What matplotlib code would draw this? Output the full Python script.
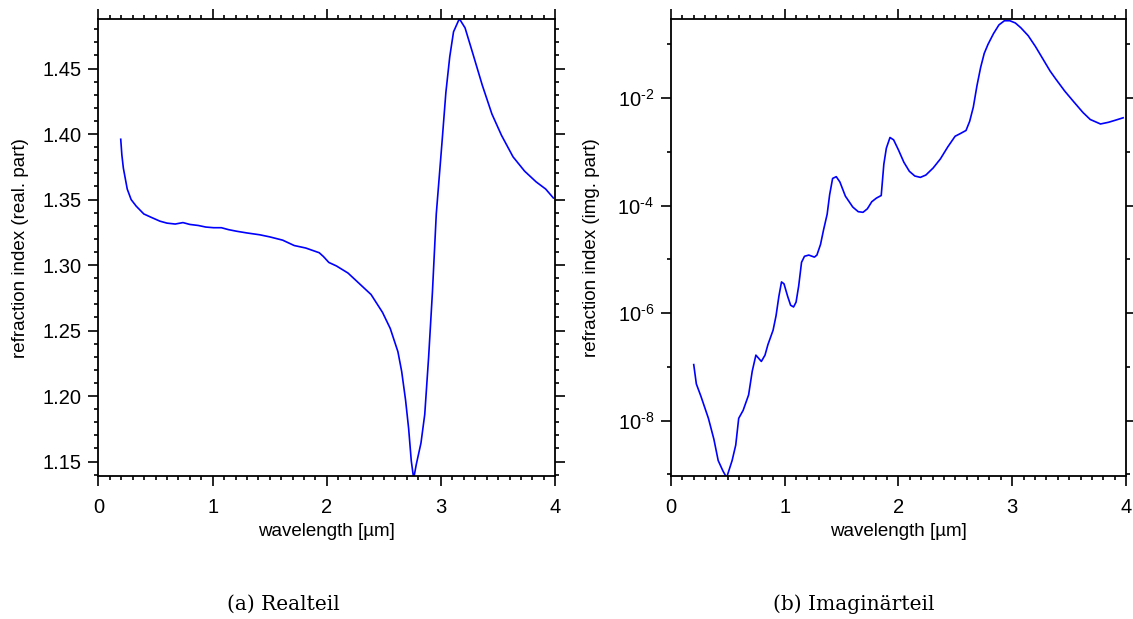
import matplotlib
matplotlib.use("Agg")
import math
import matplotlib.pyplot as plt
from matplotlib.ticker import MultipleLocator, FixedLocator, FuncFormatter, NullFormatter

plt.rcParams['font.family'] = ['Liberation Sans', 'DejaVu Sans']
plt.rcParams['mathtext.fontset'] = 'custom'
plt.rcParams['mathtext.rm'] = 'Liberation Sans'
plt.rcParams['mathtext.it'] = 'Liberation Sans:italic'

# real part of the refraction index
wl_re = [0.195, 0.205, 0.218, 0.235, 0.252, 0.286, 0.33, 0.397, 0.46, 0.538,
         0.60, 0.672, 0.74, 0.80, 0.874, 0.94, 1.008, 1.076, 1.14, 1.21,
         1.30, 1.412, 1.50, 1.613, 1.714, 1.815, 1.933, 1.97, 2.017, 2.084,
         2.185, 2.286, 2.387, 2.487, 2.555, 2.622, 2.655, 2.689, 2.716, 2.739,
         2.760, 2.783, 2.824, 2.857, 2.891, 2.924, 2.958, 3.008, 3.042, 3.076,
         3.109, 3.16, 3.21, 3.277, 3.361, 3.445, 3.529, 3.63, 3.731, 3.832,
         3.916, 3.983]
n_re = [1.396, 1.384, 1.374, 1.366, 1.358, 1.350, 1.345, 1.339, 1.3365, 1.3335,
        1.332, 1.3313, 1.3324, 1.331, 1.3302, 1.329, 1.3285, 1.3285, 1.327, 1.3258,
        1.3245, 1.3231, 1.3215, 1.3190, 1.3149, 1.3130, 1.3094, 1.3065, 1.3020, 1.2993,
        1.2939, 1.2857, 1.2775, 1.2639, 1.2516, 1.2339, 1.2188, 1.1970, 1.1752, 1.1506,
        1.137, 1.1479, 1.1642, 1.1860, 1.2298, 1.2789, 1.3390, 1.3935, 1.4317, 1.4590,
        1.4780, 1.4880, 1.4810, 1.4617, 1.4372, 1.4153, 1.3990, 1.3826, 1.3717, 1.3635,
        1.3580, 1.3512]

# imaginary part of the refraction index
wl_im = [0.202, 0.225, 0.266, 0.331, 0.379, 0.417, 0.459, 0.491, 0.539, 0.571,
         0.597, 0.636, 0.684, 0.716, 0.748, 0.796, 0.828, 0.854, 0.899, 0.925,
         0.950, 0.973, 0.995, 1.027, 1.053, 1.079, 1.101, 1.124, 1.149, 1.175,
         1.213, 1.262, 1.284, 1.316, 1.342, 1.374, 1.396, 1.422, 1.454, 1.486,
         1.534, 1.599, 1.647, 1.689, 1.727, 1.766, 1.807, 1.849, 1.872, 1.894,
         1.926, 1.958, 2.000, 2.048, 2.096, 2.144, 2.193, 2.241, 2.305, 2.369,
         2.433, 2.498, 2.546, 2.594, 2.626, 2.658, 2.690, 2.722, 2.754, 2.787,
         2.835, 2.883, 2.931, 2.979, 3.027, 3.075, 3.140, 3.204, 3.268, 3.332,
         3.380, 3.461, 3.541, 3.621, 3.685, 3.775, 3.846, 3.910, 3.974]
k_im = [1.1e-7, 4.8e-8, 2.8e-8, 1.1e-8, 4.5e-9, 1.8e-9, 1.15e-9, 8.7e-10, 1.8e-9, 3.5e-9,
        1.1e-8, 1.55e-8, 3.0e-8, 8.3e-8, 1.65e-7, 1.26e-7, 1.65e-7, 2.6e-7, 4.8e-7, 8.9e-7,
        2.05e-6, 3.8e-6, 3.5e-6, 2.05e-6, 1.4e-6, 1.3e-6, 1.6e-6, 3.2e-6, 8.8e-6, 1.14e-5,
        1.2e-5, 1.1e-5, 1.2e-5, 1.9e-5, 3.5e-5, 6.9e-5, 1.6e-4, 3.2e-4, 3.45e-4, 2.75e-4,
        1.5e-4, 9.4e-5, 7.7e-5, 7.5e-5, 8.7e-5, 1.18e-4, 1.38e-4, 1.54e-4, 5.9e-4, 1.17e-3,
        1.85e-3, 1.67e-3, 1.09e-3, 6.4e-4, 4.35e-4, 3.55e-4, 3.35e-4, 3.7e-4, 5.0e-4, 7.4e-4,
        1.23e-3, 1.95e-3, 2.2e-3, 2.5e-3, 3.7e-3, 6.8e-3, 1.7e-2, 3.7e-2, 6.8e-2, 0.100,
        0.158, 0.23, 0.275, 0.275, 0.25, 0.204, 0.145, 0.091, 0.054, 0.032,
        0.023, 0.0135, 8.5e-3, 5.4e-3, 4.0e-3, 3.3e-3, 3.55e-3, 3.9e-3, 4.3e-3]

log_major = [1e-8, 1e-6, 1e-4, 1e-2]
log_minor = [1e-9, 1e-7, 1e-5, 1e-3, 1e-1]


def style_axes(ax):
    for sp in ax.spines.values():
        sp.set_linewidth(1.3)
    ax.tick_params(which='both', direction='out', top=True, right=True,
                   labeltop=False, labelright=False, width=1.2,
                   labelsize=14.5, pad=5)
    ax.tick_params(which='major', length=7)
    ax.tick_params(which='minor', length=3.2)
    ax.tick_params(axis='x', which='major', pad=9)
    ax.set_xlim(0, 4)
    ax.xaxis.set_major_locator(MultipleLocator(1))
    ax.xaxis.set_minor_locator(MultipleLocator(0.1))
    ax.set_xlabel('wavelength [µm]', fontsize=13.5)
    ax.xaxis.set_label_coords(0.5, -0.102)


def sci_label(v, pos):
    n = int(round(-math.log10(v)))
    return r'$\mathregular{10^{\text{-}' + str(n) + r'}}$'


fig = plt.figure(figsize=(11.33, 6.19), dpi=100)
ax1 = fig.add_axes([0.0869, 0.231, 0.4032, 0.7375])
ax2 = fig.add_axes([0.592, 0.231, 0.4019, 0.7375])

# (a) real part
ax1.plot(wl_re, n_re, color='#0000ff', lw=1.2)
style_axes(ax1)
ax1.set_ylim(1.139, 1.4874)
ax1.yaxis.set_major_locator(MultipleLocator(0.05))
ax1.yaxis.set_minor_locator(MultipleLocator(0.01))
ax1.yaxis.set_major_formatter(FuncFormatter(lambda v, p: f'{v:.2f}'))
ax1.set_ylabel('refraction index (real. part)', fontsize=13.5)
ax1.yaxis.set_label_coords(-0.17, 0.5)
ax1.yaxis.label.set_va('center')

# (b) imaginary part, log scale
ax2.plot(wl_im, k_im, color='#0000ff', lw=1.2)
ax2.set_yscale('log')
style_axes(ax2)
ax2.set_ylim(9.3e-10, 0.29)
ax2.yaxis.set_major_locator(FixedLocator(log_major))
ax2.yaxis.set_minor_locator(FixedLocator(log_minor))
ax2.yaxis.set_major_formatter(FuncFormatter(sci_label))
ax2.yaxis.set_minor_formatter(NullFormatter())
ax2.set_ylabel('refraction index (img. part)', fontsize=13.5)
ax2.yaxis.set_label_coords(-0.175, 0.5)
ax2.yaxis.label.set_va('center')

fig.text(283.5 / 1133, 1 - 604 / 619, '(a) Realteil', family='DejaVu Serif',
         fontsize=14.5, ha='center', va='center')
fig.text(853.3 / 1133, 1 - 604 / 619, '(b) Imaginärteil', family='DejaVu Serif',
         fontsize=14.5, ha='center', va='center')

fig.savefig('out.png', dpi=100)
